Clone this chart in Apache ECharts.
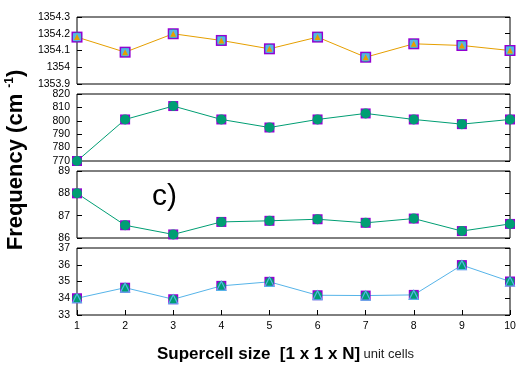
<!DOCTYPE html>
<html>
<head>
<meta charset="utf-8">
<script src="https://cdn.jsdelivr.net/npm/echarts@6/dist/echarts.min.js"></script>
<style>html,body{margin:0;padding:0;background:#fff}#c{width:525px;height:371px}</style>
</head>
<body>
<div id="c"></div>
<script>
// Data
const cells = [1, 2, 3, 4, 5, 6, 7, 8, 9, 10];
const mode1 = [1354.18, 1354.09, 1354.20, 1354.16, 1354.11, 1354.18, 1354.06, 1354.14, 1354.13, 1354.10];
const mode2 = [770, 801, 811, 801, 795, 801, 805.5, 801, 797.5, 801];
const mode3 = [88.0, 86.57, 86.16, 86.72, 86.77, 86.84, 86.68, 86.87, 86.31, 86.63];
const mode4 = [34.0, 34.63, 33.94, 34.74, 34.98, 34.18, 34.16, 34.2, 35.98, 35.0];
const yRanges = [[1353.9, 1354.3, 0.1], [770, 820, 10], [86, 89, 1], [33, 37, 1]];

const PURPLE = '#9400d3', GREEN = '#009e73', SKY = '#56b4e9', ORANGE = '#e69f00';
const tickFont = { fontFamily: 'Liberation Sans', fontSize: 10.5, color: '#000' };

const panelTops = [17, 94, 171, 248];
const panelH = 67;
const grids = panelTops.map(t => ({ left: 77, width: 433, top: t, height: panelH, show: true, borderColor: '#000', borderWidth: 1, backgroundColor: 'transparent' }));

const xAxes = grids.map((g, i) => ({
  type: 'value', gridIndex: i, min: 1, max: 10, interval: 1,
  axisLine: { show: false }, splitLine: { show: false },
  axisTick: { show: i === 3, inside: true, length: 5, lineStyle: { color: '#000' } },
  axisLabel: { show: i === 3, margin: 6, ...tickFont }
}));

const yAxes = [];
yRanges.forEach((r, i) => {
  ['left', 'right'].forEach(pos => {
    yAxes.push({
      type: 'value', gridIndex: i, position: pos, min: r[0], max: r[1], interval: r[2],
      axisLine: { show: false }, splitLine: { show: false },
      axisTick: { show: true, inside: true, length: 5, lineStyle: { color: '#000' } },
      axisLabel: { show: pos === 'left', margin: 7, ...tickFont,
        formatter: v => String(parseFloat(v.toFixed(1))) }
    });
  });
});

const pts = vals => cells.map((c, i) => [c, vals[i]]);
function sym(grid, vals, symbol, size, color, extra) {
  return Object.assign({
    type: 'line', xAxisIndex: grid, yAxisIndex: grid * 2, data: pts(vals),
    symbol: symbol, symbolSize: size, showSymbol: true, clip: false,
    lineStyle: { width: 0, opacity: 0 }, itemStyle: { color: color, opacity: 1 },
    animation: false, silent: true
  }, extra || {});
}

const series = [
  // Panel 1
  sym(0, mode1, 'rect', 11, PURPLE),
  sym(0, mode1, 'circle', 9, GREEN),
  sym(0, mode1, 'rect', 8, SKY),
  sym(0, mode1, 'triangle', 6, ORANGE, { lineStyle: { width: 1, color: ORANGE } }),
  // Panel 2
  sym(1, mode2, 'rect', 10, PURPLE),
  sym(1, mode2, 'circle', 10, GREEN, { lineStyle: { width: 1, color: GREEN } }),
  // Panel 3
  sym(2, mode3, 'rect', 10, PURPLE),
  sym(2, mode3, 'circle', 10, GREEN, { lineStyle: { width: 1, color: GREEN } }),
  // Panel 4
  sym(3, mode4, 'rect', 10, PURPLE),
  sym(3, mode4, 'circle', 9, GREEN),
  sym(3, mode4, 'triangle', 9, SKY, { lineStyle: { width: 1, color: SKY }, itemStyle: { color: 'rgba(0,0,0,0)', borderColor: SKY, borderWidth: 1.2 } })
];

const chart = echarts.init(document.getElementById('c'), null, { renderer: 'canvas' });
chart.setOption({
  backgroundColor: '#fff',
  animation: false,
  grid: grids,
  xAxis: xAxes,
  yAxis: yAxes,
  series: series,
  graphic: [
    {
      type: 'text', x: 16, y: 160, rotation: Math.PI / 2,
      style: {
        text: '{b|Frequency (cm }{s|-1}{b|)}',
        align: 'center', verticalAlign: 'middle',
        rich: {
          b: { fontFamily: 'Liberation Sans', fontWeight: 'bold', fontSize: 22, fill: '#000' },
          s: { fontFamily: 'Liberation Sans', fontWeight: 'bold', fontSize: 12, fill: '#000', padding: [0, 0, 12, 0] }
        }
      }
    },
    {
      type: 'text', x: 152, y: 182,
      style: { text: 'c)', fontFamily: 'Liberation Sans', fontSize: 30, fill: '#000' }
    },
    {
      type: 'text', x: 157, y: 346,
      style: {
        text: '{b|Supercell size  [1 x 1 x N]} {n|unit cells}',
        rich: {
          b: { fontFamily: 'Liberation Sans', fontWeight: 'bold', fontSize: 17, fill: '#000' },
          n: { fontFamily: 'Liberation Sans', fontSize: 13, fill: '#222' }
        }
      }
    }
  ]
});
</script>
</body>
</html>
